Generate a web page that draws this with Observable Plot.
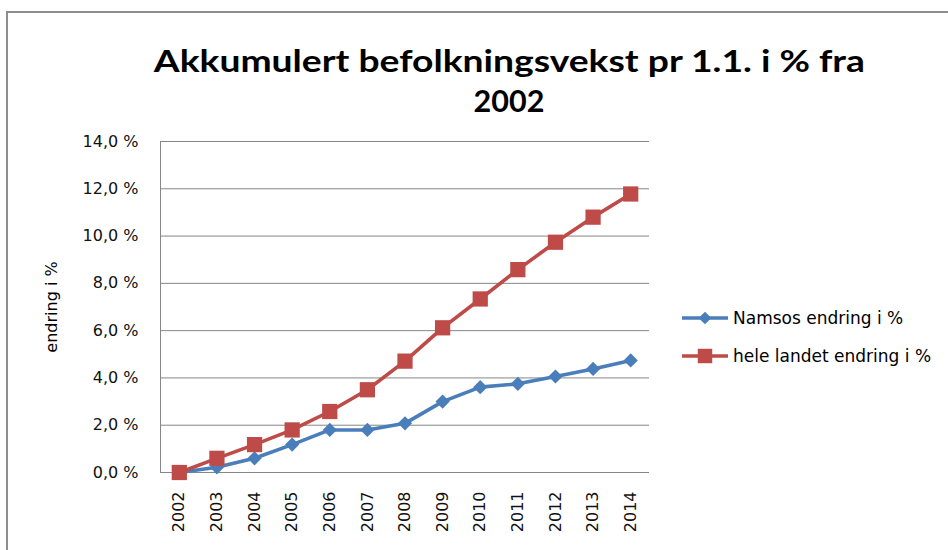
<!DOCTYPE html>
<html><head><meta charset="utf-8">
<script src="https://cdn.jsdelivr.net/npm/d3@7"></script>
<script src="https://cdn.jsdelivr.net/npm/@observablehq/plot@0.6"></script>
<style>
html,body{margin:0;padding:0;background:#fff;}
#wrap{position:relative;width:948px;height:550px;overflow:hidden;font-family:"DejaVu Sans",sans-serif;color:#000;}
#frame{position:absolute;left:6px;top:11px;width:1000px;height:700px;border:2px solid #8e8e8e;box-sizing:border-box;}
#chart{position:absolute;left:0;top:0;}
#title{position:absolute;left:0;width:1018px;top:40px;text-align:center;font-family:Lato,sans-serif;font-weight:bold;font-size:30.5px;line-height:40px;}
#title span{display:inline-block;white-space:nowrap;transform-origin:center;}
#ylab{position:absolute;left:51px;top:307px;transform:translate(-50%,-50%) rotate(-90deg);font-size:16px;white-space:nowrap;}
#legend{position:absolute;left:682px;top:305px;font-size:17px;}
.li{position:absolute;left:0;height:26px;display:flex;align-items:center;white-space:nowrap;}
.li svg{margin-right:4px;}
</style></head>
<body><div id="wrap"><div id="frame"></div><div id="chart"></div>
<div id="title"><span id="t1">Akkumulert befolkningsvekst pr 1.1. i % fra</span><br><span>2002</span></div>
<div id="ylab">endring i %</div>
<div id="legend"></div>
</div>
<script>
const years = [2002,2003,2004,2005,2006,2007,2008,2009,2010,2011,2012,2013,2014];
const namsos = [0,0.22,0.60,1.18,1.80,1.80,2.08,3.00,3.61,3.75,4.06,4.38,4.74];
const heleLandet = [0,0.60,1.18,1.80,2.58,3.50,4.71,6.12,7.34,8.58,9.74,10.80,11.78];
const yTicks = [0,2,4,6,8,10,12,14];
const seriesNames = ["Namsos endring i %","hele landet endring i %"];
const colors = ["#4A7EBB","#BE4B48"];

const rowsN = years.map((y,i)=>({year:y,value:namsos[i],s:seriesNames[0]}));
const rowsH = years.map((y,i)=>({year:y,value:heleLandet[i],s:seriesNames[1]}));
const diamond = d3.symbolDiamond2 || d3.symbolDiamond;

const fmt = d => d.toFixed(1).replace(".", ",") + " %";

const chart = Plot.plot({
  width:948, height:550,
  marginLeft:160, marginRight:299, marginTop:141, marginBottom:78,
  style:{fontFamily:"DejaVu Sans, sans-serif", fontSize:"16px", color:"#000", background:"transparent", overflow:"visible"},
  x:{type:"linear", domain:[years[0]-0.5, years[years.length-1]+0.5]},
  y:{domain:[0,14]},
  color:{domain:seriesNames, range:colors},
  marks:[
    Plot.gridY(yTicks, {stroke:"#868686", strokeOpacity:1, strokeWidth:1}),
    Plot.ruleX([years[0]-0.5], {stroke:"#868686", strokeWidth:1}),
    Plot.axisY(yTicks, {tickSize:0, tickPadding:22, tickFormat:fmt, fill:"#111", label:null}),
    Plot.axisX(years, {tickSize:0, tickRotate:-90, tickPadding:19, tickFormat:d=>String(d), fill:"#111", label:null}),
    Plot.line(rowsN, {x:"year", y:"value", stroke:"s", strokeWidth:3.6}),
    Plot.dot(rowsN, {x:"year", y:"value", symbol:diamond, r:6.4, fill:"s", stroke:"none"}),
    Plot.line(rowsH, {x:"year", y:"value", stroke:"s", strokeWidth:3.6}),
    Plot.dot(rowsH, {x:"year", y:"value", symbol:d3.symbolSquare, r:8.6, fill:"s", stroke:"none"})
  ]
});
document.getElementById("chart").appendChild(chart);

// title width fit
const t1 = document.getElementById("t1");
const w = t1.getBoundingClientRect().width;
if (w > 0) t1.style.transform = `scaleX(${711 / w})`;

// legend
const legend = d3.select("#legend");
const syms = [[diamond, 6.4], [d3.symbolSquare, 8.6]];
seriesNames.forEach((name, i) => {
  const item = legend.append("div").attr("class","li").style("top", (i*38) + "px");
  const svg = item.append("svg").attr("width",47).attr("height",26);
  svg.append("line").attr("x1",0).attr("x2",46).attr("y1",13).attr("y2",13).attr("stroke",colors[i]).attr("stroke-width",3.6);
  svg.append("path").attr("transform","translate(23,13)")
    .attr("d", d3.symbol(syms[i][0], Math.PI*syms[i][1]*syms[i][1]*(i===0?0.8:0.9))()).attr("fill",colors[i]);
  item.append("span").text(name);
});
</script>
</body></html>
